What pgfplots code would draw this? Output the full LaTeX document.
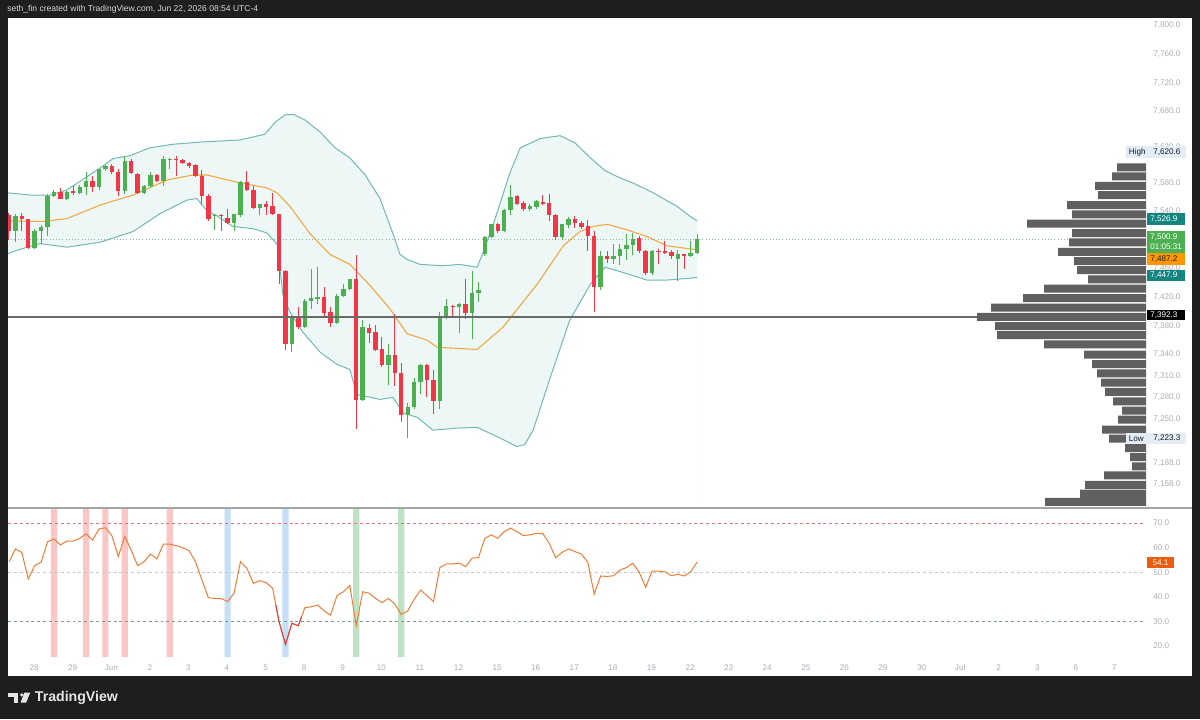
\documentclass[border=0pt]{standalone}
\usepackage{pgfplots}
\pgfplotsset{compat=1.18}
\usepackage{pgfplotstable}
\usepackage{fontspec}
\setmainfont{Liberation Sans}
\definecolor{bgdark}{RGB}{30,30,30}
\definecolor{hdr}{RGB}{215,215,215}
\definecolor{cgreen}{RGB}{76,175,80}
\definecolor{cred}{RGB}{242,54,69}
\definecolor{bandline}{RGB}{115,185,178}
\definecolor{bandfill}{RGB}{237,247,246}
\definecolor{basis}{RGB}{245,166,60}
\definecolor{lblgray}{RGB}{170,173,182}
\definecolor{vpgray}{RGB}{96,96,96}
\definecolor{poc}{RGB}{105,105,105}
\definecolor{rsiline}{RGB}{240,125,55}
\definecolor{rsired}{RGB}{214,64,70}
\definecolor{stripred}{RGB}{250,198,198}
\definecolor{stripblue}{RGB}{196,223,246}
\definecolor{stripgreen}{RGB}{190,226,196}
\definecolor{tvteal}{RGB}{18,134,126}
\definecolor{tvorange}{RGB}{255,152,0}
\definecolor{rsibox}{RGB}{232,93,16}
\definecolor{hlbg}{RGB}{228,236,246}
\definecolor{darktext}{RGB}{19,23,34}
\definecolor{sepgray}{RGB}{165,165,165}
\definecolor{pricedot}{RGB}{140,180,165}
\newcommand{\fs}{\fontsize{6.1}{7}\selectfont}
% candle: index, open, high, low, close
\newcommand{\candG}[5]{\addplot[cgreen, line width=0.75pt, forget plot] coordinates {(#1,#4)(#1,#3)};\addplot[cgreen, line width=3.3pt, forget plot] coordinates {(#1,#2)(#1,#5)};}
\newcommand{\candR}[5]{\addplot[cred, line width=0.75pt, forget plot] coordinates {(#1,#4)(#1,#3)};\addplot[cred, line width=3.3pt, forget plot] coordinates {(#1,#2)(#1,#5)};}

\pgfplotstableread{
i v
-0.2 7566
3.3 7563
6.4 7563
9 7570
14.2 7601
16.2 7614
18.8 7618
21.9 7629
25.5 7634
29.7 7637
35.9 7640
39.8 7648
41.4 7665
42.9 7675
44.2 7676
46 7668
48.4 7651
50.7 7629
53 7615
55.4 7591
57.7 7558
59.7 7509
60.8 7480
61.9 7473
63.9 7466
67.5 7464
70.1 7466
72.8 7462
73.7 7482
75.6 7530
77.9 7594
79.5 7629
82.6 7642
85.7 7646
88 7636
90.4 7615
92.7 7597
95 7587
97 7580
100.2 7566
103.9 7547
106.4 7530
107 7527
}\upband

\pgfplotstableread{
i v
-0.2 7481
1.7 7487
4.8 7495
9 7490
14.2 7497
19.3 7512
23.5 7537
27.7 7556
29.2 7558
30.8 7541
32.3 7534
34.8 7519
37.9 7516
40.1 7510
41.7 7494
42.6 7423
43.7 7399
45.7 7371
48.4 7343
51 7326
53 7319
54.1 7284
55.7 7281
57.7 7277
59.7 7280
61.3 7258
63.5 7252
65.9 7234
69.7 7237
72.8 7238
76.4 7223
79 7211
80.2 7214
81.5 7234
84.1 7306
87.2 7388
90.4 7438
92.7 7462
95 7456
99.2 7444
102.3 7444
106.4 7447
107 7448
}\lowband

\pgfplotstableread{
i v
-0.2 7527
5.3 7526
9 7530
14.2 7549
19.3 7563
24.6 7584
28.6 7591
30.8 7591
35.9 7580
40.1 7573
41.7 7566
43.7 7547
46.8 7509
49.9 7480
53 7466
56.1 7437
59.3 7403
61.9 7369
65 7360
66.6 7350
72.8 7347
76.8 7378
82.1 7438
86.2 7492
88.8 7512
90.8 7519
93 7522
95.5 7516
99.2 7505
102.3 7492
106.4 7487
107 7487
}\basisdata

\pgfplotstableread{
i v
0 54.3
1 59.5
2 58.0
3 47.3
4 52.7
5 54.1
6 62.4
7 63.5
8 61.1
9 62.7
10 62.7
11 63.8
12 65.6
13 63.1
14 67.6
15 68.1
16 64.9
17 56.4
18 64.5
19 59.1
20 52.7
21 54.3
22 57.4
23 55.4
24 61.4
25 61.4
26 60.8
27 60.0
28 58.8
29 54.3
30 46.9
31 39.7
32 39.4
33 39.3
34 38.1
35 41.5
36 54.3
37 51.6
38 45.5
39 46.6
40 45.8
41 43.5
42 29.9
43 20.7
44 29.3
45 28.3
46 35.6
47 36.0
48 36.7
49 34.3
50 32.6
51 40.5
52 42.1
53 44.6
54 28.3
55 42.1
56 41.5
57 39.4
58 37.7
59 39.4
60 37.1
61 32.9
62 34.3
63 39.0
64 42.8
65 40.5
66 38.1
67 51.9
68 53.4
69 53.4
70 53.7
71 52.3
72 55.7
73 56.0
74 63.8
75 65.2
76 63.8
77 66.5
78 67.9
79 66.5
80 64.9
81 65.2
82 65.8
83 65.7
84 61.8
85 55.9
86 58.1
87 59.5
88 58.4
89 57.4
90 54.1
91 41.1
92 48.5
93 48.3
94 48.6
95 50.9
96 51.9
97 53.7
98 50.0
99 43.9
100 50.5
101 50.5
102 50.2
103 48.6
104 49.2
105 48.5
106 50.2
107 54.1
}\rsidata

\begin{document}
\begin{tikzpicture}
\fill[bgdark] (0,0) rectangle (900pt,539.25pt);
\fill[white] (6pt,32.25pt) rectangle (894pt,525.75pt);
\node[anchor=west, inner sep=0pt, text=hdr, font=\fontsize{6.4}{7.5}\selectfont] at (5.25pt,532.5pt) {seth\_fin created with TradingView.com, Jun 22, 2026 08:54 UTC-4};

% ---------------- main price pane ----------------
\begin{axis}[
  at={(6pt,158.25pt)}, anchor=south west,
  width=853.5pt, height=367.5pt, scale only axis,
  xmin=-0.15, xmax=176.8,
  ymin=7125.2, ymax=7810.6,
  axis line style={draw=none}, tick style={draw=none},
  major tick length=0pt,
  xtick=\empty,
  ytick={7158,7188,7250,7280,7310,7340,7380,7420,7460,7540,7580,7630,7680,7720,7760,7800},
  yticklabels={{7,158.0},{7,188.0},{7,250.0},{7,280.0},{7,310.0},{7,340.0},{7,380.0},{7,420.0},{7,460.0},{7,540.0},{7,580.0},{7,630.0},{7,680.0},{7,720.0},{7,760.0},{7,800.0}},
  yticklabel pos=right,
  yticklabel style={font=\fs, text=lblgray, anchor=west, inner sep=0pt, xshift=5.25pt},
]
% band fill: area under the upper band tinted, area under the lower band white again
\addplot[fill=bandfill, draw=none, forget plot] table[x=i,y=v] {\upband} \closedcycle;
\addplot[fill=white, draw=none, forget plot] table[x=i,y=v] {\lowband} \closedcycle;
\addplot[bandline, line width=0.75pt, forget plot] table[x=i,y=v] {\upband};
\addplot[bandline, line width=0.75pt, forget plot] table[x=i,y=v] {\lowband};
\addplot[basis, line width=0.8pt, forget plot] table[x=i,y=v] {\basisdata};
\addplot[pricedot, line width=0.6pt, dash pattern=on 0.8pt off 1.6pt, forget plot] coordinates {(-0.15,7500.9) (176.8,7500.9)};
% candles: index, open, high, low, close
\candR{0}{7535}{7538}{7500}{7513}
\candG{1}{7513}{7537}{7497}{7533}
\candR{2}{7533}{7538}{7513}{7529}
\candR{3}{7529}{7530}{7487}{7489}
\candG{4}{7489}{7515}{7487}{7513}
\candG{5}{7513}{7521}{7495}{7518}
\candG{6}{7518}{7565}{7506}{7562}
\candG{7}{7562}{7570}{7560}{7567}
\candR{8}{7567}{7573}{7557}{7558}
\candG{9}{7558}{7568}{7556}{7567}
\candR{10}{7568}{7575}{7563}{7566}
\candG{11}{7566}{7577}{7564}{7574}
\candG{12}{7574}{7595}{7563}{7582}
\candR{13}{7583}{7589}{7567}{7574}
\candG{14}{7574}{7600}{7570}{7599}
\candG{15}{7599}{7605}{7597}{7604}
\candR{16}{7603}{7606}{7592}{7595}
\candR{17}{7595}{7599}{7561}{7568}
\candG{18}{7568}{7617}{7565}{7611}
\candR{19}{7611}{7614}{7592}{7594}
\candR{20}{7592}{7594}{7565}{7566}
\candG{21}{7566}{7577}{7564}{7575}
\candG{22}{7575}{7595}{7573}{7591}
\candR{23}{7591}{7593}{7581}{7582}
\candG{24}{7582}{7618}{7575}{7613}
\candG{25}{7612}{7615}{7600}{7614}
\candR{26}{7614}{7618}{7590}{7612}
\candR{27}{7612}{7613}{7607}{7608}
\candR{28}{7608}{7609}{7601}{7603}
\candR{29}{7605}{7607}{7588}{7590}
\candR{30}{7590}{7598}{7551}{7562}
\candR{31}{7562}{7564}{7527}{7530}
\candG{32}{7533}{7536}{7514}{7535}
\candR{33}{7535}{7536}{7512}{7533}
\candR{34}{7531}{7543}{7523}{7524}
\candG{35}{7524}{7537}{7512}{7536}
\candG{36}{7535}{7582}{7532}{7581}
\candR{37}{7581}{7597}{7569}{7570}
\candR{38}{7570}{7575}{7544}{7545}
\candG{39}{7545}{7551}{7535}{7550}
\candR{40}{7550}{7555}{7535}{7546}
\candR{41}{7547}{7566}{7535}{7536}
\candR{42}{7536}{7537}{7438}{7457}
\candR{43}{7457}{7458}{7346}{7354}
\candG{44}{7354}{7393}{7344}{7392}
\candR{45}{7393}{7407}{7375}{7378}
\candG{46}{7378}{7417}{7377}{7415}
\candG{47}{7415}{7459}{7404}{7419}
\candG{48}{7418}{7463}{7411}{7421}
\candR{49}{7421}{7434}{7392}{7398}
\candR{50}{7400}{7406}{7378}{7384}
\candG{51}{7384}{7424}{7383}{7422}
\candG{52}{7422}{7438}{7421}{7431}
\candG{53}{7431}{7446}{7430}{7445}
\candR{54}{7445}{7479}{7236}{7276}
\candG{55}{7276}{7388}{7275}{7378}
\candR{56}{7377}{7383}{7356}{7370}
\candR{57}{7371}{7381}{7345}{7346}
\candR{58}{7347}{7365}{7323}{7325}
\candG{59}{7325}{7355}{7297}{7339}
\candR{60}{7339}{7397}{7296}{7314}
\candR{61}{7314}{7328}{7246}{7255}
\candG{62}{7255}{7272}{7223}{7266}
\candG{63}{7266}{7307}{7264}{7302}
\candG{64}{7302}{7326}{7284}{7325}
\candR{65}{7325}{7327}{7281}{7304}
\candR{66}{7304}{7318}{7256}{7275}
\candG{67}{7275}{7399}{7263}{7391}
\candG{68}{7391}{7418}{7389}{7408}
\candR{69}{7408}{7409}{7391}{7406}
\candG{70}{7406}{7412}{7370}{7411}
\candR{71}{7411}{7445}{7390}{7398}
\candG{72}{7398}{7457}{7361}{7426}
\candG{73}{7426}{7441}{7413}{7430}
\candG{74}{7480}{7506}{7478}{7504}
\candG{75}{7504}{7523}{7503}{7522}
\candR{76}{7522}{7524}{7510}{7513}
\candG{77}{7513}{7543}{7511}{7542}
\candG{78}{7542}{7577}{7535}{7560}
\candR{79}{7561}{7563}{7549}{7551}
\candR{80}{7552}{7555}{7541}{7543}
\candG{81}{7543}{7550}{7541}{7548}
\candG{82}{7546}{7556}{7543}{7554}
\candR{83}{7553}{7563}{7549}{7551}
\candR{84}{7552}{7564}{7527}{7535}
\candR{85}{7535}{7536}{7500}{7504}
\candG{86}{7504}{7523}{7500}{7522}
\candG{87}{7521}{7532}{7517}{7530}
\candR{88}{7530}{7533}{7517}{7524}
\candR{89}{7524}{7527}{7515}{7518}
\candR{90}{7519}{7528}{7485}{7506}
\candR{91}{7506}{7512}{7400}{7435}
\candG{92}{7435}{7485}{7430}{7477}
\candR{93}{7478}{7485}{7468}{7473}
\candG{94}{7473}{7494}{7466}{7478}
\candG{95}{7478}{7494}{7465}{7487}
\candG{96}{7487}{7509}{7472}{7493}
\candG{97}{7493}{7510}{7479}{7502}
\candR{98}{7503}{7506}{7482}{7484}
\candR{99}{7484}{7486}{7451}{7454}
\candG{100}{7454}{7486}{7451}{7484}
\candR{101}{7485}{7487}{7466}{7484}
\candR{102}{7484}{7498}{7481}{7482}
\candR{103}{7483}{7486}{7474}{7477}
\candG{104}{7473}{7486}{7443}{7481}
\candR{105}{7481}{7481}{7460}{7477}
\candG{106}{7477}{7498}{7476}{7482}
\candG{107}{7482}{7508}{7481}{7501}
% horizontal level
\addplot[poc, line width=1.2pt, forget plot] coordinates {(-0.15,7392.3) (176.8,7392.3)};
\end{axis}

% ---------------- volume profile overlay ----------------
\begin{axis}[
  at={(6pt,158.25pt)}, anchor=south west,
  width=853.5pt, height=367.5pt, scale only axis,
  hide axis,
  xmin=0, xmax=1138, x dir=reverse,
  ymin=7125.2, ymax=7810.6,
]
\addplot[xbar, bar width=6pt, bar shift=0pt, fill=vpgray, draw=none] coordinates {
(29,7601.8)(34,7589.0)(51,7575.8)(48,7563.0)(79,7548.8)(74,7536.0)(119,7523.0)(74,7509.8)
(77,7496.6)(88,7483.6)(72,7470.7)(69,7457.8)(58,7445.1)(102,7431.9)(123,7418.8)(155,7405.6)
(169,7392.5)(151,7379.7)(149,7366.9)(102,7354.0)(62,7339.7)(54,7326.4)(49,7313.5)(45,7300.5)
(41,7287.6)(33,7274.5)(24,7261.5)(28,7248.9)(44,7234.7)(37,7222.3)(21,7209.0)(16,7196.4)
(14,7183.6)(42,7170.8)(61,7157.6)(66,7145.3)(101,7133.9)};
\end{axis}

% ---------------- RSI pane ----------------
\begin{axis}[
  at={(6pt,46.5pt)}, anchor=south west,
  width=853.5pt, height=111.75pt, scale only axis,
  xmin=-0.15, xmax=176.8, ymin=15.6, ymax=76.1,
  axis line style={draw=none}, tick style={draw=none},
  major tick length=0pt,
  ytick={20,30,40,50,60,70},
  yticklabels={20.0,30.0,40.0,50.0,60.0,70.0},
  yticklabel pos=right,
  yticklabel style={font=\fs, text=lblgray, anchor=west, inner sep=0pt, xshift=5.25pt},
  xtick={3.9,9.9,15.9,21.9,27.9,33.9,39.9,45.9,51.9,57.9,63.9,69.9,75.9,81.9,87.9,93.9,99.9,105.9,111.9,117.9,123.9,129.9,135.9,141.9,147.9,153.9,159.9,165.9,171.9},
  xticklabels={28,29,Jun,2,3,4,5,8,9,10,11,12,15,16,17,18,19,22,23,24,25,26,29,30,Jul,2,3,6,7},
  xticklabel style={font=\fs, text=lblgray, anchor=center, inner sep=0pt, yshift=-8.25pt},
]
\addplot[ybar, bar width=0.95, bar shift=0pt, fill=stripred, draw=none, forget plot] coordinates {(7,90)(12,90)(15,90)(18,90)(25,90)};
\addplot[ybar, bar width=0.95, bar shift=0pt, fill=stripblue, draw=none, forget plot] coordinates {(34,90)(43,90)};
\addplot[ybar, bar width=0.95, bar shift=0pt, fill=stripgreen, draw=none, forget plot] coordinates {(54,90)(61,90)};
\addplot[color={rgb,255:red,235;green,110;blue,120}, line width=0.6pt, dash pattern=on 2.2pt off 2.2pt, forget plot] coordinates {(-0.15,70)(176.8,70)};
\addplot[color={rgb,255:red,200;green,200;blue,200}, line width=0.6pt, dash pattern=on 2.2pt off 2.2pt, forget plot] coordinates {(-0.15,50)(176.8,50)};
\addplot[color={rgb,255:red,130;green,155;blue,140}, line width=0.6pt, dash pattern=on 2.2pt off 2.2pt, forget plot] coordinates {(-0.15,30)(176.8,30)};
\addplot[rsiline, line width=0.75pt, forget plot] table[x=i,y=v] {\rsidata};
\addplot[rsired, line width=0.75pt, forget plot] coordinates {(41.5,36.7)(42,29.9)(43,20.7)(44,29.3)(45,28.3)(45.5,32)};
\end{axis}

% pane separator
\draw[sepgray, line width=1.1pt] (6pt,158.25pt) -- (894pt,158.25pt);

% ---------------- price scale labels ----------------
\begin{scope}[font=\fs]
\fill[hlbg] (844.5pt,420.6pt) rectangle (889.5pt,429.4pt);
\node[anchor=west, inner sep=0pt, text=darktext] at (846.5pt,425pt) {High};
\node[anchor=west, inner sep=0pt, text=darktext] at (864.75pt,425pt) {7,620.6};
\fill[hlbg] (844.5pt,206.2pt) rectangle (889.5pt,214.7pt);
\node[anchor=west, inner sep=0pt, text=darktext] at (846.5pt,210.45pt) {Low};
\node[anchor=west, inner sep=0pt, text=darktext] at (864.75pt,210.45pt) {7,223.3};
\fill[tvteal] (860.25pt,370.5pt) rectangle (888.75pt,379.5pt);
\node[anchor=west, inner sep=0pt, text=white] at (862.5pt,375pt) {7,526.9};
\fill[cgreen] (860.25pt,349.7pt) rectangle (888.75pt,366pt);
\node[anchor=west, inner sep=0pt, text=white] at (862.5pt,361.5pt) {7,500.9};
\node[anchor=west, inner sep=0pt, text=white] at (862.5pt,354pt) {01:05:31};
\fill[tvorange] (860.25pt,340.7pt) rectangle (888.75pt,349.5pt);
\node[anchor=west, inner sep=0pt, text=darktext] at (862.5pt,345.1pt) {7,487.2};
\fill[tvteal] (860.25pt,328.3pt) rectangle (888.75pt,336.75pt);
\node[anchor=west, inner sep=0pt, text=white] at (862.5pt,332.5pt) {7,447.9};
\fill[black] (860.25pt,299.25pt) rectangle (888.75pt,306.75pt);
\node[anchor=west, inner sep=0pt, text=white] at (862.5pt,303pt) {7,392.3};
\fill[rsibox] (860.25pt,113pt) rectangle (880.5pt,121.7pt);
\node[inner sep=0pt, text=white] at (870.4pt,117.35pt) {54.1};
\end{scope}

% ---------------- footer ----------------
\fill[white!90!black] (6.2pt,16.7pt) rectangle (13.7pt,19.7pt);
\fill[white!90!black] (10.5pt,12.2pt) rectangle (13.7pt,19.7pt);
\fill[white!90!black] (16.3pt,18.1pt) circle (1.3pt);
\fill[white!90!black] (18.2pt,19.7pt) -- (22.6pt,19.7pt) -- (19.6pt,12.2pt) -- (15.4pt,12.2pt) -- cycle;
\node[anchor=west, inner sep=0pt, text=white!90!black, font=\fontsize{10.6}{12}\selectfont\bfseries] at (26pt,16.2pt) {TradingView};
\pgfresetboundingbox
\useasboundingbox (0,0) rectangle (900pt,539.25pt);
\end{tikzpicture}
\end{document}
